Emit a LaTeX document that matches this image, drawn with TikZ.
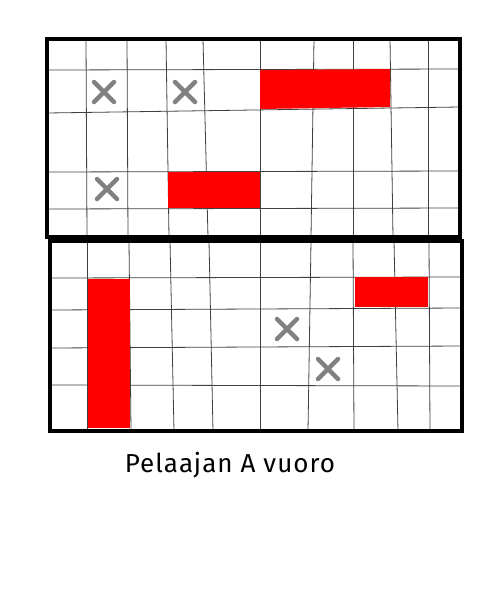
\documentclass[tikz,border=0pt]{standalone}
\usepackage{fontspec}
\setmainfont{Fira Sans}
\tikzset{
    gridline/.style={line width=0.8pt, draw=black!75},
    border/.style={line width=4pt, draw=black},
    ship/.style={fill=red, draw=none},
    miss/.pic={\draw[line width=4.5pt, draw=black!50, line cap=round]
        (-10,-10) -- (10,10) (-10,10) -- (10,-10);},
    caption/.style={font=\fontsize{26}{30}\selectfont\addfontfeature{LetterSpace=4},
                    anchor=base},
}
\begin{document}
\begin{tikzpicture}[x=1pt, y=-1pt]
    \useasboundingbox (0,0) rectangle (500,600);

    % upper board
    \foreach \xa/\xb in {86/87, 127/128, 166/169, 203/208, 260/260,
                         314/311, 353/353, 390/393, 428/428}
        \draw[gridline] (\xa,39) -- (\xb,237);
    \foreach \ya/\yb in {70/69, 113/107, 172/171, 209/208}
        \draw[gridline] (47,\ya) -- (460,\yb);
    \fill[ship] (260,70) -- (390,69) -- (390,107) -- (260,109) -- cycle;
    \fill[ship] (168,172) rectangle (260,208);
    \pic at (104,92) {miss};
    \pic at (185,92) {miss};
    \pic at (107,189) {miss};
    \draw[border] (47,39) rectangle (460,237);

    % lower board
    \foreach \xa/\xb in {87/87, 129/131, 170/174, 209/213, 260/260,
                         311/308, 353/354, 394/398, 429/430}
        \draw[gridline] (\xa,241) -- (\xb,431);
    \foreach \ya/\yb in {278/277, 310/308, 348/346, 385/386}
        \draw[gridline] (50,\ya) -- (462,\yb);
    \fill[ship] (88,279) rectangle (130,428);
    \fill[ship] (355,277) rectangle (428,307);
    \pic at (287,329) {miss};
    \pic at (328,369) {miss};
    \draw[border] (50,241) rectangle (462,431);

    \node[caption] (turn) at (230,472) {Pelaajan A vuoro};
\end{tikzpicture}
\end{document}
